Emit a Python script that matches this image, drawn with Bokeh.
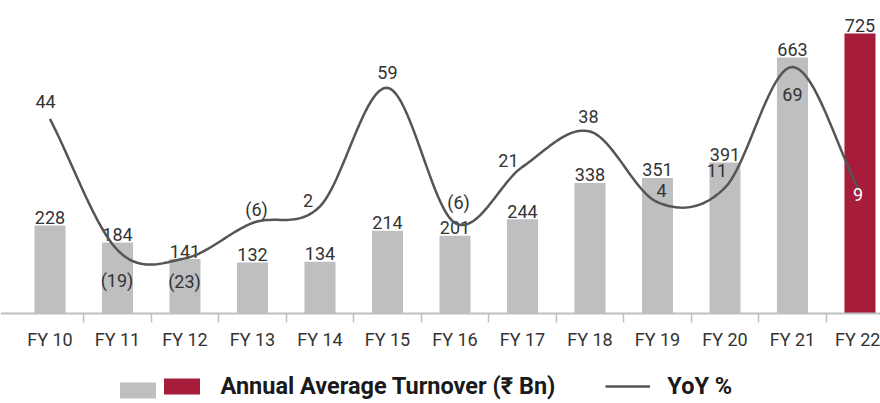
import numpy as np
from bokeh.plotting import figure
from bokeh.models import (ColumnDataSource, Range1d, FixedTicker, CustomJSTickFormatter,
                          Legend, LegendItem, CDSView, IndexFilter)
from bokeh.core.properties import value
from bokeh.embed import file_html
from bokeh.resources import INLINE

# ---------------- data ----------------
years = ["FY 10", "FY 11", "FY 12", "FY 13", "FY 14", "FY 15", "FY 16",
         "FY 17", "FY 18", "FY 19", "FY 20", "FY 21", "FY 22"]
turnover = [228, 184, 141, 132, 134, 214, 201, 244, 338, 351, 391, 663, 725]
yoy = [44, -19, -23, -6, 2, 59, -6, 21, 38, 4, 11, 69, 9]
highlight_year = "FY 22"
bar_label = "Annual Average Turnover (₹ Bn)"
line_label = "YoY %"

# ---------------- styling ----------------
GRAY = "#bebfc1"
RED = "#a61c3a"
LINE = "#555555"
TXT = "#333333"
FONT = "Roboto"
# label offsets for the YoY labels (pixels, screen space)
yoy_dx = [-4.5, -0.5, -0.5, 4, -12, 0, 3.5, -14, -1.5, 4, -8, 0, -2]
yoy_dy = [-17.6, 30.5, 23.2, -13.5, -5.9, -15.4, -21, -6.4, -15, -11.7, -17.2, 27.4, 2.7]

n = len(years)
idx = list(range(n))
yoy_text = [f"({-v})" if v < 0 else str(v) for v in yoy]
yoy_color = ["white" if y == highlight_year else TXT for y in years]

src = ColumnDataSource(dict(x=idx, top=turnover, lbl=[str(v) for v in turnover],
                            yoy=yoy, ylbl=yoy_text, ycol=yoy_color,
                            dx=yoy_dx, dy=yoy_dy))


def catmull_rom(xs, ys, steps=24):
    P = np.column_stack([xs, ys]).astype(float)
    P = np.vstack([2 * P[0] - P[1], P, 2 * P[-1] - P[-2]])
    out = []
    t = np.linspace(0, 1, steps, endpoint=False)[:, None]
    for i in range(1, len(P) - 2):
        p0, p1, p2, p3 = P[i - 1], P[i], P[i + 1], P[i + 2]
        seg = 0.5 * ((2 * p1) + (-p0 + p2) * t + (2 * p0 - 5 * p1 + 4 * p2 - p3) * t ** 2
                     + (-p0 + 3 * p1 - 3 * p2 + p3) * t ** 3)
        out.append(seg)
    out.append(P[-2][None, :])
    return np.vstack(out)


curve = catmull_rom(idx, yoy)

p = figure(width=880, height=403, x_range=Range1d(-0.7333, 12.304), y_range=Range1d(-233.0, 810.4),
           y_axis_location=None, output_backend="svg", toolbar_location=None,
           min_border_left=0, min_border_right=0, min_border_top=0, min_border_bottom=0)
p.extra_y_ranges = {"yoy": Range1d(-92.8, 101.0)}
p.outline_line_color = None
p.xgrid.visible = False
p.ygrid.visible = False
p.background_fill_color = "white"
p.border_fill_color = "white"

gray_idx = [i for i, y in enumerate(years) if y != highlight_year]
red_idx = [i for i, y in enumerate(years) if y == highlight_year]

gray_r = p.vbar(x="x", top="top", bottom=0, width=0.46, source=src,
                view=CDSView(filter=IndexFilter(gray_idx)), fill_color=GRAY, line_color=None)
red_r = p.vbar(x="x", top="top", bottom=0, width=0.46, source=src,
               view=CDSView(filter=IndexFilter(red_idx)), fill_color=RED, line_color=None)

p.text(x="x", y="top", text="lbl", source=src, text_align="center", text_baseline="alphabetic",
       y_offset=-8, text_font=value(FONT), text_font_size="18px", text_color=TXT)

line_r = p.line(curve[:, 0], curve[:, 1], y_range_name="yoy", line_color=LINE, line_width=2.5)

p.text(x="x", y="yoy", text="ylbl", source=src, y_range_name="yoy", x_offset="dx", y_offset="dy",
       text_align="center", text_baseline="middle", text_font=value(FONT), text_font_size="18px",
       text_color="ycol")

ax = p.xaxis[0]
ax.fixed_location = 0
ax.ticker = FixedTicker(ticks=idx, minor_ticks=[i + 0.5 for i in range(n - 1)])
ax.formatter = CustomJSTickFormatter(args=dict(labels=years),
                                     code="const i = Math.round(tick); return (i >= 0 && i < labels.length) ? labels[i] : '';")
ax.axis_line_color = "#bfbfbf"
ax.axis_line_width = 2
ax.major_tick_in = 0
ax.major_tick_out = 0
ax.minor_tick_in = 0
ax.minor_tick_out = 9
ax.minor_tick_line_color = "#bfbfbf"
ax.minor_tick_line_width = 1.5
ax.major_label_standoff = 6
ax.major_label_text_font = FONT
ax.major_label_text_font_size = "18px"
ax.major_label_text_color = TXT

leg_common = dict(orientation="horizontal", glyph_width=45, glyph_height=20, padding=0, margin=0,
                  border_line_color=None, background_fill_alpha=0, label_text_font=FONT,
                  label_text_font_size="23.5px", label_text_font_style="bold", label_text_color="#1a1a1a")
leg1 = Legend(items=[LegendItem(label=value(""), renderers=[gray_r])], location=(114.5, 3),
              label_width=0, label_standoff=0, **leg_common)
leg2 = Legend(items=[LegendItem(label=bar_label, renderers=[red_r]),
                     LegendItem(label=line_label, renderers=[line_r])],
              location=(158.5, 3), label_standoff=17, spacing=50, **leg_common)
p.add_layout(leg1, "center")
p.add_layout(leg2, "center")

open("out.html", "w").write(file_html(p, INLINE))
